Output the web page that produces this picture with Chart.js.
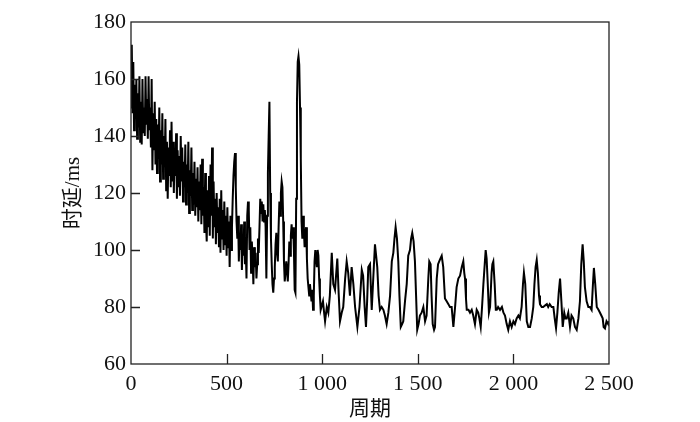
<!DOCTYPE html>
<html>
<head>
<meta charset="utf-8">
<script src="https://cdn.jsdelivr.net/npm/chart.js@4.4.1/dist/chart.umd.min.js"></script>
<style>
  html, body { margin: 0; padding: 0; background: #fff; }
</style>
</head>
<body>
<canvas id="chart" width="700" height="422"></canvas>
<script>
// 周期 (x) and 时延/ms (y)
const periods = [
  0, 4, 8, 12, 16, 20, 24, 28, 32, 36,
  40, 44, 48, 52, 56, 60, 64, 68, 72, 76,
  80, 84, 88, 92, 96, 100, 104, 108, 112, 116,
  120, 124, 128, 132, 136, 140, 144, 148, 152, 156,
  160, 164, 168, 172, 176, 180, 184, 188, 192, 196,
  200, 204, 208, 212, 216, 220, 224, 228, 232, 236,
  240, 244, 248, 252, 256, 260, 264, 268, 272, 276,
  280, 284, 288, 292, 296, 300, 304, 308, 312, 316,
  320, 324, 328, 332, 336, 340, 344, 348, 352, 356,
  360, 364, 368, 372, 376, 380, 384, 388, 392, 396,
  400, 404, 408, 412, 416, 420, 424, 428, 432, 436,
  440, 444, 448, 452, 456, 460, 464, 468, 472, 476,
  480, 484, 488, 492, 496,
  500, 504, 508, 512, 516, 520, 524, 528, 532, 536,
  540, 544, 548, 552, 556, 560, 564, 568, 572, 576,
  580, 584, 588, 592, 596, 600, 604, 608, 612, 616,
  620, 624, 628, 632, 636, 640, 644, 648, 652, 656,
  660, 664, 668, 672, 676, 680, 684, 688, 692, 696,
  700, 704, 708, 712, 716, 720, 724, 728, 732, 736,
  740, 744, 748, 752, 756, 760, 764, 768, 772, 776,
  780, 784, 788, 792, 796, 800, 804, 808, 812, 816,
  820, 824, 828, 832, 836, 840, 844, 848, 852, 856,
  860, 864, 868, 872, 876, 880, 884, 888, 892, 896,
  900, 904, 908, 912, 916, 920, 924, 928, 932, 936,
  940, 944, 948, 952, 956, 960, 964, 968, 972, 976,
  980, 984, 988, 992, 996,
  1004, 1010, 1015, 1024, 1032, 1040, 1050, 1058, 1067, 1079,
  1086, 1093, 1102, 1110, 1120, 1128, 1136, 1145, 1154, 1163,
  1172, 1184, 1195, 1207, 1214, 1222, 1229, 1235, 1241, 1250,
  1259, 1267, 1276, 1282, 1288, 1295, 1302, 1311, 1320, 1328,
  1337, 1346, 1355, 1364, 1372, 1378, 1384, 1391, 1398, 1404,
  1411, 1418, 1424, 1433, 1442, 1450, 1459, 1465, 1471, 1478,
  1485, 1491, 1497, 1504, 1511, 1520, 1529, 1538, 1546, 1555,
  1560, 1567, 1572, 1578, 1585, 1590, 1599, 1606, 1612, 1618,
  1625, 1633, 1642, 1651, 1660, 1668, 1677, 1686, 1695, 1703,
  1712, 1721, 1730, 1738, 1743, 1747, 1752, 1756, 1765, 1773,
  1782, 1790, 1799, 1808, 1816, 1822, 1829, 1836, 1843, 1850,
  1855, 1860, 1866, 1872, 1878, 1886, 1890, 1895, 1902, 1908,
  1913, 1920, 1930, 1940, 1948, 1956, 1965, 1973, 1982, 1991,
  2000, 2008, 2017, 2026, 2034, 2043, 2050, 2055, 2062, 2070,
  2078, 2087, 2096, 2104, 2110, 2116, 2122, 2128, 2134, 2139,
  2148, 2156, 2165, 2175, 2182, 2190, 2200, 2209, 2216, 2223,
  2230, 2237, 2244, 2251, 2258, 2266, 2272, 2279, 2287, 2296,
  2304, 2313, 2322, 2331, 2340, 2348, 2355, 2362, 2368, 2374,
  2383, 2392, 2400, 2409, 2416, 2421, 2428, 2436, 2445, 2453,
  2460, 2467, 2472, 2479, 2487, 2496, 2500
];

const delays = [
  150, 172, 148, 166, 142, 158, 146, 160, 139, 155,
  143, 161, 138, 152, 137, 160, 141, 150, 140, 161,
  144, 153, 139, 161, 142, 150, 136, 160, 128, 148,
  135, 152, 130, 146, 127, 144, 132, 150, 124, 142,
  130, 148, 125, 140, 129, 146, 121, 138, 118, 136,
  126, 142, 122, 145, 124, 138, 120, 134, 126, 141,
  118, 135, 122, 133, 119, 140, 124, 136, 117, 131,
  122, 137, 116, 130, 120, 138, 113, 128, 119, 136,
  114, 127, 116, 131, 112, 125, 115, 129, 110, 124,
  114, 130, 109, 132, 112, 122, 106, 127, 110, 103,
  121, 108, 126, 105, 130, 112, 136, 104, 124, 108,
  118, 102, 120, 106, 115, 101, 118, 99, 121, 104,
  114, 100, 117, 102, 112,
  98, 115, 101, 110, 94, 112, 100, 108, 118, 126,
  131, 134, 122, 110, 104, 112, 96, 106, 100, 109,
  93, 104, 98, 110, 95, 101, 90, 112, 117, 114,
  100, 108, 92, 103, 97, 88, 101, 94, 99, 90,
  95, 104, 99, 108, 118, 113, 117, 110, 116, 110,
  114, 108, 90, 112, 127, 140, 152, 120, 104, 95,
  88, 85, 90, 94, 102, 106, 99, 96, 108, 117,
  112, 120, 124, 122, 110, 96, 89, 92, 96, 93,
  89, 95, 103, 98, 105, 109, 104, 108, 100, 86,
  85, 118, 152, 166, 168, 165, 150, 132, 110, 104,
  112, 107, 101, 106, 108, 97, 90, 87, 84, 88,
  85, 82, 86, 79, 84, 96, 100, 97, 94, 100,
  98, 90, 84, 79, 80,
  82, 78, 75, 80, 78, 84, 99, 88, 86, 97,
  85, 75, 78, 80, 90, 96, 92, 84, 94, 88,
  80, 73, 80, 93, 91, 80, 73, 82, 94, 95,
  79, 90, 102, 98, 94, 84, 79, 80, 79, 77,
  74, 78, 84, 96, 99, 104, 108, 104, 96, 84,
  73, 74, 75, 82, 88, 98, 100, 104, 106, 103,
  96, 84, 72, 74, 77, 78, 80, 75, 77, 90,
  96, 95, 84, 74, 72, 73, 90, 95, 96, 97,
  98, 94, 83, 82, 81, 80, 80, 73, 80, 87,
  90, 91, 94, 96, 92, 90, 83, 79, 79, 78,
  79, 77, 74, 79, 78, 76, 73, 80, 88, 95,
  100, 97, 88, 78, 80, 92, 95, 96, 88, 79,
  79, 80, 79, 80, 78, 77, 74, 72, 75, 73,
  75, 74, 76, 77, 76, 80, 88, 92, 88, 75,
  73, 73, 76, 80, 88, 94, 96.5, 92, 84, 81,
  80, 80, 80.5, 81, 80, 81, 80, 80, 76, 72.6,
  78, 85, 90, 82, 73, 78, 76, 76, 78, 73,
  77, 76, 73, 72, 76, 82, 95, 102, 96, 87,
  82, 80, 80, 79, 88, 93.7, 88, 80, 79, 78,
  77, 76, 73, 72.5, 75, 74, 75
];

const xTicks = [0, 500, 1000, 1500, 2000, 2500];
const yTicks = [60, 80, 100, 120, 140, 160, 180];

const serif = '"Liberation Serif", "Noto Sans CJK SC", serif';

// box round the plot and ticks that point inwards
const framePlugin = {
  id: 'frame',
  afterDraw(chart) {
    const { ctx, chartArea: a, scales } = chart;
    ctx.save();
    ctx.strokeStyle = '#222';
    ctx.lineWidth = 1.3;
    ctx.strokeRect(a.left, a.top, a.right - a.left, a.bottom - a.top);
    ctx.beginPath();
    yTicks.slice(1, -1).forEach(v => {
      const y = Math.round(scales.y.getPixelForValue(v)) + 0.5;
      ctx.moveTo(a.left, y);
      ctx.lineTo(a.left + 9, y);
    });
    xTicks.slice(1, -1).forEach(v => {
      const x = Math.round(scales.x.getPixelForValue(v)) + 0.5;
      ctx.moveTo(x, a.bottom);
      ctx.lineTo(x, a.bottom - 10);
    });
    ctx.stroke();
    ctx.restore();
  }
};

new Chart(document.getElementById('chart'), {
  type: 'line',
  data: {
    datasets: [{
      data: periods.map((p, i) => ({ x: p, y: delays[i] })),
      borderColor: '#000',
      borderWidth: 2,
      pointRadius: 0,
      tension: 0,
      fill: false
    }]
  },
  options: {
    responsive: false,
    animation: false,
    layout: { padding: { left: 0, top: 22, right: 91, bottom: 0 } },
    plugins: { legend: { display: false }, tooltip: { enabled: false } },
    scales: {
      x: {
        type: 'linear',
        min: 0,
        max: 2500,
        afterBuildTicks: s => { s.ticks = xTicks.map(v => ({ value: v })); },
        afterFit: s => { s.height = 58; },
        grid: { display: false, drawTicks: false },
        border: { display: false },
        ticks: {
          padding: 7,
          color: '#111',
          font: { family: serif, size: 22 },
          maxRotation: 0,
          callback: v => String(v).replace(/\B(?=(\d{3})+(?!\d))/g, ' ')
        },
        title: {
          display: true,
          text: '周期',
          color: '#111',
          font: { family: serif, size: 21 },
          padding: { top: 3, bottom: 0 }
        }
      },
      y: {
        type: 'linear',
        min: 60,
        max: 180,
        afterBuildTicks: s => { s.ticks = yTicks.map(v => ({ value: v })); },
        afterFit: s => { s.width = 131; },
        grid: { display: false, drawTicks: false },
        border: { display: false },
        ticks: {
          padding: 5,
          color: '#111',
          font: { family: serif, size: 22 }
        },
        title: {
          display: true,
          text: '时延/ms',
          color: '#111',
          font: { family: serif, size: 21 },
          padding: { top: 61, bottom: 0 }
        }
      }
    }
  },
  plugins: [framePlugin]
});
</script>
</body>
</html>
